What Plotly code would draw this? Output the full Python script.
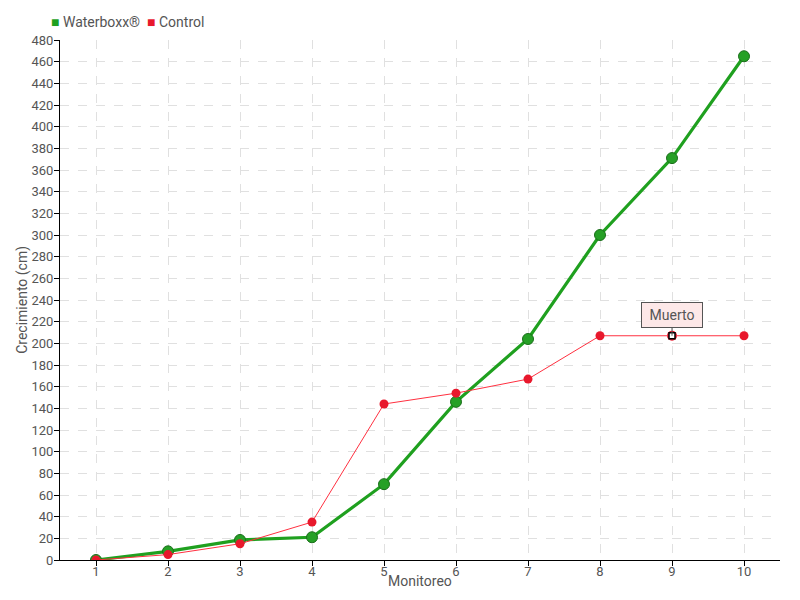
import plotly.graph_objects as go

monitoreo = [1, 2, 3, 4, 5, 6, 7, 8, 9, 10]
waterboxx = [0, 8, 18.5, 21, 70, 146, 204, 300, 371, 465]
control = [0, 5, 15, 35, 144, 154, 167, 207, 207, 207]
series_names = ["Waterboxx®", "Control"]
note_label = "Muerto"
note_index = 8

font_family = "Roboto, sans-serif"
grey = "#555555"
green = "#1fa01f"
red = "#e8182c"

ctrl_symbols = ["circle"] * len(control)
ctrl_symbols[note_index] = "square"
ctrl_colors = [red] * len(control)
ctrl_colors[note_index] = "white"
ctrl_sizes = [9] * len(control)
ctrl_sizes[note_index] = 6
ctrl_line_colors = [red] * len(control)
ctrl_line_colors[note_index] = "black"
ctrl_line_widths = [0] * len(control)
ctrl_line_widths[note_index] = 1.5

fig = go.Figure()
fig.add_trace(go.Scatter(
    x=monitoreo, y=waterboxx, mode="lines+markers", showlegend=False,
    line=dict(color=green, width=3.2),
    marker=dict(size=11, color="#26a026", line=dict(color="#1a6e1a", width=1)),
))
fig.add_trace(go.Scatter(
    x=[monitoreo[note_index]], y=[control[note_index]], mode="markers", showlegend=False,
    marker=dict(size=10, color=red),
))
fig.add_trace(go.Scatter(
    x=monitoreo, y=control, mode="lines+markers", showlegend=False,
    line=dict(color="#ff3040", width=1),
    marker=dict(size=ctrl_sizes, color=ctrl_colors, symbol=ctrl_symbols, opacity=1,
                line=dict(color=ctrl_line_colors, width=ctrl_line_widths)),
))

legend_text = (f'<span style="color:{green}">■</span> {series_names[0]}  '
               f'<span style="color:{red}">■</span> {series_names[1]}')
fig.add_annotation(
    xref="paper", yref="paper", x=-0.015, y=1.035, xanchor="left", yanchor="middle",
    text=legend_text, showarrow=False, font=dict(family=font_family, size=14, color=grey),
)

fig.add_annotation(
    x=monitoreo[note_index], y=control[note_index], text=note_label,
    showarrow=True, arrowhead=0, arrowwidth=1, arrowcolor=grey, ax=0, ay=-21,
    bgcolor="#fde8e8", bordercolor=grey, borderwidth=1, borderpad=4, width=52,
    font=dict(family=font_family, size=14, color=grey),
)

fig.add_annotation(
    xref="paper", yref="paper", x=0.5, y=-0.040, xanchor="center", yanchor="middle",
    text="Monitoreo", showarrow=False, font=dict(family=font_family, size=14, color=grey),
)
fig.add_annotation(
    xref="paper", yref="paper", x=-0.053, y=0.5, xanchor="center", yanchor="middle",
    text="Crecimiento (cm)", textangle=-90, showarrow=False,
    font=dict(family=font_family, size=14, color=grey),
)

fig.update_layout(
    width=800, height=600,
    margin=dict(l=52, r=28, t=32, b=48),
    plot_bgcolor="white", paper_bgcolor="white",
    font=dict(family=font_family, size=14, color=grey),
    showlegend=False,
    xaxis=dict(
        range=[0.5, 10.5], tickmode="array", tickvals=monitoreo,
        ticktext=[str(v) for v in monitoreo], tickfont=dict(size=13),
        showline=True, linecolor="black", linewidth=1,
        ticks="outside", ticklen=5, tickcolor="black", ticklabelstandoff=-6,
        showgrid=True, gridcolor="#e0e0e0", griddash="dash", gridwidth=1,
        zeroline=False, automargin=False,
    ),
    yaxis=dict(
        range=[0, 480], dtick=20, tick0=0, tickfont=dict(size=13),
        showline=True, linecolor="black", linewidth=1,
        ticks="outside", ticklen=5, tickcolor="black", ticklabelstandoff=-2,
        showgrid=True, gridcolor="#e0e0e0", griddash="dash", gridwidth=1,
        zeroline=False, automargin=False,
    ),
)

fig.write_html("out.html")
